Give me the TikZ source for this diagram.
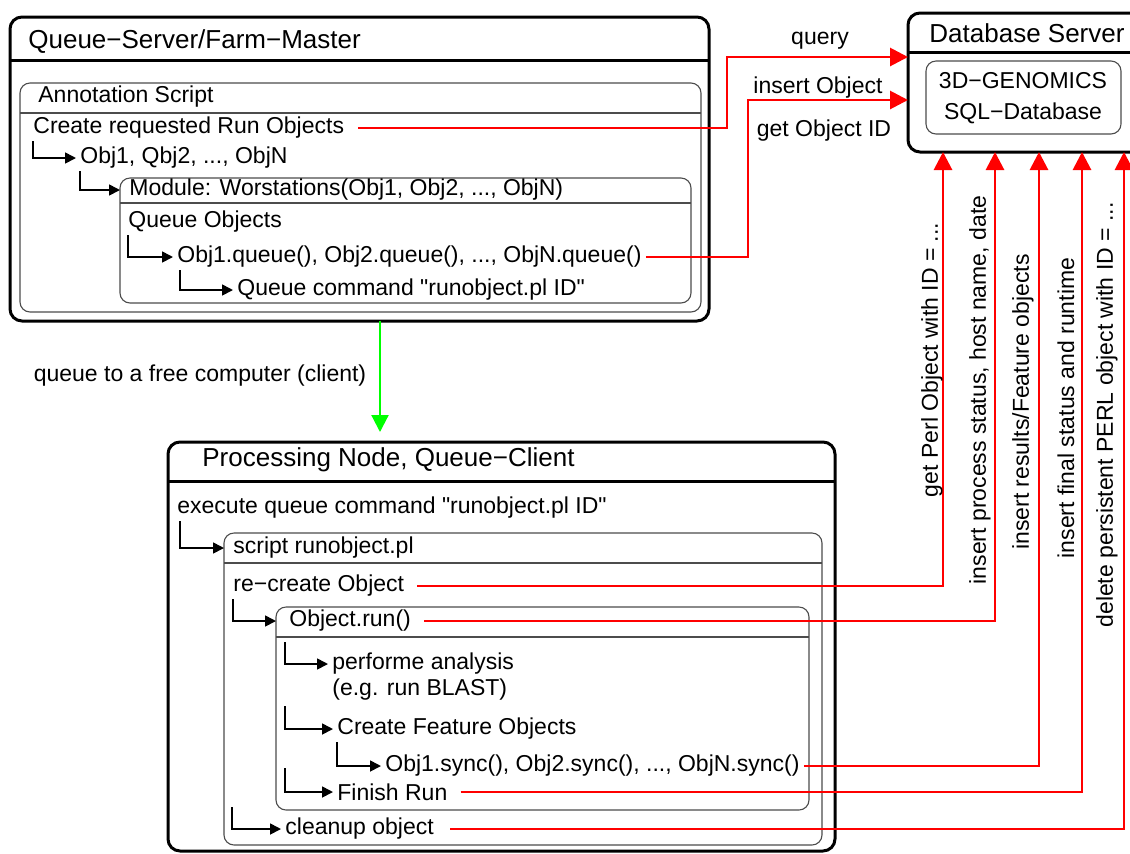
\documentclass[tikz,border=0pt]{standalone}
\usepackage{fontspec}
\setmainfont{Liberation Sans}[Ligatures=TeXOff]
\usetikzlibrary{arrows.meta}
\definecolor{brightgreen}{RGB}{0,255,0}
\begin{document}
\begin{tikzpicture}[x=0.5pt,y=-0.5pt,
 txt/.style={font=\fontsize{11.5}{13}\selectfont, inner xsep=2pt, inner ysep=1pt, anchor=west},
 ctxt/.style={font=\fontsize{11.5}{13}\selectfont, inner sep=1pt},
 ttl/.style={font=\fontsize{13}{15}\selectfont, inner sep=1pt, anchor=west},
 vtxt/.style={font=\fontsize{11.5}{13}\selectfont, inner sep=1pt, rotate=90},
 outer/.style={line width=1.5pt, rounded corners=6pt},
 septhick/.style={line width=1.5pt},
 inner/.style={line width=0.55pt, draw=black!70, rounded corners=5pt},
 septhin/.style={line width=0.55pt, draw=black!70},
 elbow/.style={line width=0.85pt, -{Triangle[length=5.5pt,width=5.5pt]}},
 redarr/.style={draw=red, line width=1.45pt, -{Triangle[length=9pt,width=9pt]}},
 grn/.style={draw=brightgreen, line width=1.1pt, -{Triangle[length=8.5pt,width=8.5pt]}},
 ]
\clip (0,0) rectangle (1130,853);

% ---------------- Queue-Server / Farm-Master ----------------
\draw[outer] (10,17) rectangle (709,321);
\draw[septhick] (10,60) -- (709,60);
\node[ttl] (t1) at (26,42) {Queue−Server/Farm−Master};

\draw[inner] (20,83) rectangle (701,312);
\draw[septhin] (20,113) -- (701,113);
\node[txt] (ann) at (34,97) {Annotation Script};
\node[txt] (create) at (29,128) {Create requested Run Objects};
\node[txt] (objs) at (76,158) {Obj1, Qbj2, ..., ObjN};

\draw[inner] (120,178) rectangle (691,303);
\draw[septhin] (120,203) -- (691,203);
\node[txt] (mod) at (125,190) {Module: Worstations(Obj1, Obj2, ..., ObjN)};
\coordinate (modin) at (120,190);
\node[txt] (qo) at (124,222) {Queue Objects};
\node[txt] (qcall) at (173,257) {Obj1.queue(), Obj2.queue(), ..., ObjN.queue()};
\node[txt] (qcmd) at (233,290) {Queue command "runobject.pl ID"};

\draw[elbow] ([xshift=2pt]create.south west) |- (objs.west);
\draw[elbow] ([xshift=2pt]objs.south west) |- (modin);
\draw[elbow] ([xshift=2pt]qo.south west) |- (qcall.west);
\draw[elbow] ([xshift=3.5pt]qcall.south west) |- (qcmd.west);

% ---------------- Database Server ----------------
\draw[outer] (908,13) rectangle (1150,152);
\draw[septhick] (908,52) -- (1150,52);
\node[ttl, anchor=center] (dbt) at (1027,33) {Database Server};
\draw[inner] (926,61) rectangle (1121,134);
\node[ctxt, align=center, font=\fontsize{11.5}{15.5}\selectfont] (sql) at (1023,98) {3D−GENOMICS\\SQL−Database};

\coordinate (dbq) at (908,57);
\coordinate (dbi) at (908,100);
\node[ctxt] (lq) at (820,41) {query};
\node[ctxt] (li) at (818,88) {insert Object};
\node[ctxt] (lg) at (824,131) {get Object ID};
\draw[redarr, shorten <=5pt] (create.east) -| (727,57) -- (dbq);
\draw[redarr] (qcall.east) -| (748,100) -- (dbi);

% ---------------- green queue arrow ----------------
\coordinate (g1) at (380,321);
\coordinate (g2) at (380,432);
\draw[grn] (g1) -- (g2);
\node[ctxt] (lgreen) at (200,376) {queue to a free computer (client)};

% ---------------- Processing Node ----------------
\draw[outer] (168,442) rectangle (835,851);
\draw[septhick] (168,481) -- (835,481);
\node[ttl] (t2) at (200,460) {Processing Node, Queue−Client};
\node[txt] (exec) at (173,508) {execute queue command "runobject.pl ID"};

\draw[inner] (224,533) rectangle (822,845);
\draw[septhin] (224,563) -- (822,563);
\node[txt] (scr) at (229,548) {script runobject.pl};
\coordinate (scrin) at (224,548);
\node[txt] (recr) at (229,586) {re−create Object};

\draw[inner] (276,607) rectangle (809,810);
\draw[septhin] (276,637) -- (809,637);
\node[txt] (run) at (285,621) {Object.run()};
\coordinate (runin) at (276,621);
\node[txt] (perf1) at (328,664) {performe analysis};
\node[txt] (perf2) at (328,690) {(e.g. run BLAST)};
\node[txt] (cfo) at (333,729) {Create Feature Objects};
\node[txt] (sync) at (381,766) {Obj1.sync(), Obj2.sync(), ..., ObjN.sync()};
\node[txt] (fin) at (333,792) {Finish Run};
\node[txt] (clean) at (281,829) {cleanup object};

\coordinate (c1) at (285,642);
\coordinate (c2) at (285,706);
\coordinate (c3) at (285,768);
\coordinate (c4) at (232,807);

\draw[elbow] ([xshift=3.5pt]exec.south west) |- (scrin);
\draw[elbow] ([xshift=2pt]recr.south west) |- (runin);
\draw[elbow] (c1) |- (perf1.west);
\draw[elbow] (c2) |- (cfo.west);
\draw[elbow] ([xshift=2pt]cfo.south west) |- (sync.west);
\draw[elbow] (c3) |- (fin.west);
\draw[elbow] (c4) |- (clean.west);

% ---------------- connectors to database ----------------
\coordinate (db1) at (943,152);
\coordinate (db2) at (995,152);
\coordinate (db3) at (1039,152);
\coordinate (db4) at (1082,152);
\coordinate (db5) at (1124,152);
\draw[redarr, shorten <=4.5pt] (recr.east) -| (db1);
\draw[redarr, shorten <=4.5pt] (run.east) -| (db2);
\draw[redarr] (sync.east) -| (db3);
\draw[redarr, shorten <=4.5pt] (fin.east) -| (db4);
\draw[redarr, shorten <=6pt] (clean.east) -| (db5);

\node[vtxt] (v1) at (932,360) {get Perl Object with ID = ...};
\node[vtxt] (v2) at (980,390) {insert process status, host name, date};
\node[vtxt] (v3) at (1023,402) {insert results/Feature objects};
\node[vtxt] (v4) at (1066,408) {insert final status and runtime};
\node[vtxt] (v5) at (1107,415) {delete persistent PERL object with ID = ...};
\end{tikzpicture}
\end{document}
